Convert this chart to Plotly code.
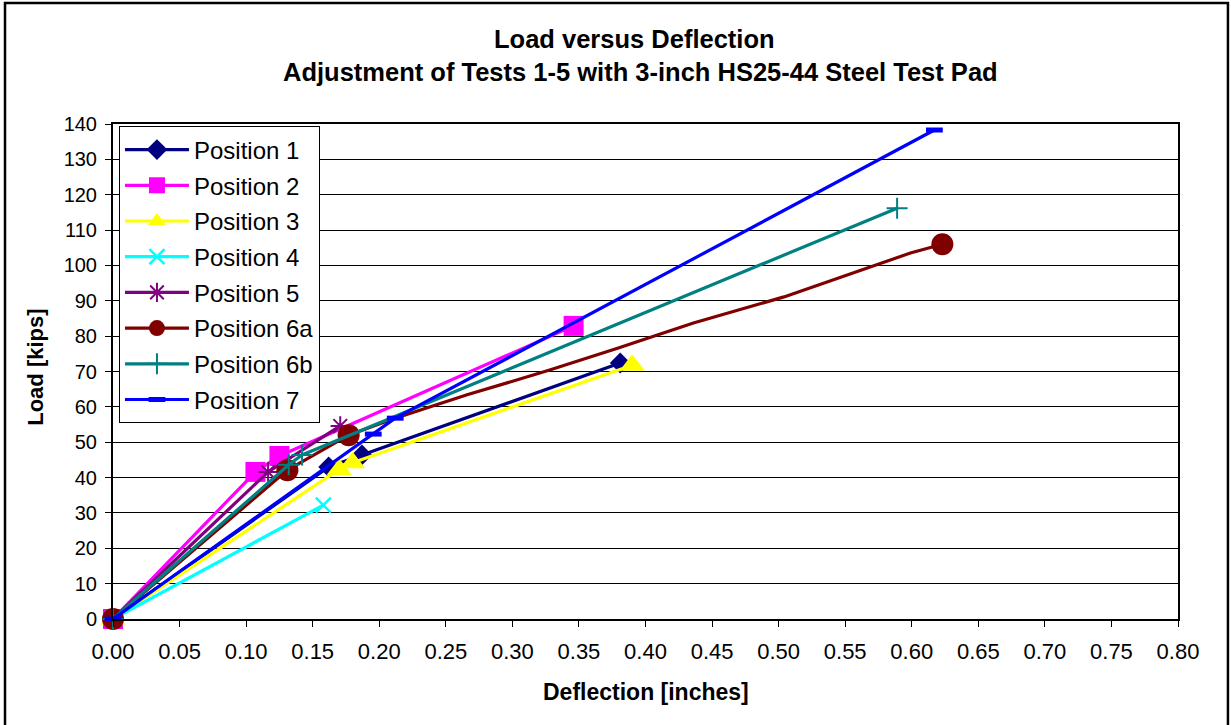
import plotly.graph_objects as go

# Load (kips) versus deflection (inches) for each test position
p1_x = [0.0, 0.162, 0.187, 0.381]
p1_y = [0.0, 43.0, 46.4, 72.4]

p2_x = [0.0, 0.107, 0.125, 0.346]
p2_y = [0.0, 41.6, 46.1, 82.9]

p3_x = [0.0, 0.170, 0.180, 0.390]
p3_y = [0.0, 42.3, 44.2, 71.8]

p4_x = [0.0, 0.158]
p4_y = [0.0, 32.2]

p5_x = [0.0, 0.1165, 0.1707]
p5_y = [0.0, 41.6, 54.6]

p6a_x = [0.0, 0.131, 0.177, 0.208, 0.266, 0.328, 0.379, 0.436, 0.504, 0.567, 0.599, 0.623]
p6a_y = [0.0, 42.1, 52.0, 56.3, 63.4, 70.4, 76.6, 83.7, 91.1, 99.3, 103.5, 106.0]
p6a_marked = [0, 1, 2, 11]

p6b_x = [0.0, 0.132, 0.142, 0.589]
p6b_y = [0.0, 43.6, 46.4, 116.2]

p7_x = [0.0, 0.1955, 0.212, 0.617]
p7_y = [0.0, 52.3, 56.8, 138.3]

x_ticks = [round(i * 0.05, 2) for i in range(17)]
y_ticks = list(range(0, 141, 10))

series = [
    ("Position 1", p1_x, p1_y, None, "#000080", dict(symbol="diamond", size=16)),
    ("Position 2", p2_x, p2_y, None, "#FF00FF", dict(symbol="square", size=20)),
    ("Position 3", p3_x, p3_y, None, "#FFFF00", dict(symbol="triangle-up", size=22)),
    ("Position 4", p4_x, p4_y, None, "#00FFFF", dict(symbol="x-thin-open", size=15, lw=2.5)),
    ("Position 5", p5_x, p5_y, None, "#800080", dict(symbol="asterisk-open", size=16, lw=2)),
    ("Position 6a", p6a_x, p6a_y, p6a_marked, "#800000", dict(symbol="circle", size=22)),
    ("Position 6b", p6b_x, p6b_y, None, "#008080", dict(symbol="cross-thin-open", size=15, lw=2)),
    ("Position 7", p7_x, p7_y, None, "#0000FF", dict(symbol="line-ew-open", size=12, lw=5)),
]

FONT = "Arial, Liberation Sans, sans-serif"
LINE_W = 3.2

fig = go.Figure()

for name, xs, ys, marked, color, mk in series:
    if marked is None:
        marked = list(range(len(xs)))
    mx = [xs[i] for i in marked]
    my = [ys[i] for i in marked]
    marker = dict(symbol=mk["symbol"], size=mk["size"], color=color,
                  line=dict(color=color, width=mk.get("lw", 0)))
    # measured curve
    fig.add_trace(go.Scatter(x=xs, y=ys, mode="lines", name=name, legendgroup=name,
                             showlegend=False, line=dict(color=color, width=LINE_W),
                             cliponaxis=False, hoverinfo="skip"))
    # marked readings
    fig.add_trace(go.Scatter(x=mx, y=my, mode="markers", name=name, legendgroup=name,
                             showlegend=False, marker=marker, cliponaxis=False))
    # legend entry
    fig.add_trace(go.Scatter(x=[None], y=[None], mode="lines+markers", name=name,
                             legendgroup=name, showlegend=True,
                             line=dict(color=color, width=LINE_W), marker=marker))

fig.update_layout(
    width=1231, height=725,
    margin=dict(l=113, r=53, t=124, b=106),
    paper_bgcolor="white", plot_bgcolor="white",
    font=dict(family=FONT, color="black", size=20),
    showlegend=True,
    legend=dict(x=0.0056, y=0.995, xanchor="left", yanchor="top",
                bgcolor="white", bordercolor="black", borderwidth=1,
                font=dict(family=FONT, size=24, color="black"),
                itemwidth=64, tracegroupgap=1.5, traceorder="grouped"),
    xaxis=dict(range=[0, 0.8], tickvals=x_ticks, tickformat=".2f",
               showgrid=False, zeroline=False,
               showline=True, linecolor="black", linewidth=2, mirror=True,
               ticks="outside", ticklen=6, tickwidth=1, tickcolor="black",
               ticklabelstandoff=6,
               tickfont=dict(size=22, family=FONT, color="black")),
    yaxis=dict(range=[0, 140], tickvals=y_ticks,
               showgrid=True, gridcolor="black", gridwidth=1, zeroline=False,
               showline=True, linecolor="black", linewidth=2, mirror=True,
               ticks="outside", ticklen=6, tickwidth=1, tickcolor="black",
               ticklabelstandoff=4,
               tickfont=dict(size=20, family=FONT, color="black")),
    annotations=[
        dict(text="<b>Load versus Deflection</b>", xref="paper", yref="paper",
             x=0.49, y=1.1717, xanchor="center", yanchor="middle", showarrow=False,
             font=dict(family=FONT, size=25.5, color="black")),
        dict(text="<b>Adjustment of Tests 1-5 with 3-inch HS25-44 Steel Test Pad</b>",
             xref="paper", yref="paper", x=0.495, y=1.105, xanchor="center",
             yanchor="middle", showarrow=False,
             font=dict(family=FONT, size=25.5, color="black")),
        dict(text="<b>Deflection [inches]</b>", xref="paper", yref="paper",
             x=0.5, y=-0.147, xanchor="center", yanchor="middle", showarrow=False,
             font=dict(family=FONT, size=23, color="black")),
        dict(text="<b>Load [kips]</b>", xref="paper", yref="paper",
             x=-0.0735, y=0.509, xanchor="center", yanchor="middle", showarrow=False,
             textangle=-90, font=dict(family=FONT, size=22, color="black")),
    ],
    shapes=[
        dict(type="rect", xref="paper", yref="paper",
             x0=-0.1014, x1=1.0469, y0=-0.23, y1=1.2444,
             line=dict(color="black", width=2.5), fillcolor="rgba(0,0,0,0)", layer="below"),
    ],
)

fig.write_html("out.html")
